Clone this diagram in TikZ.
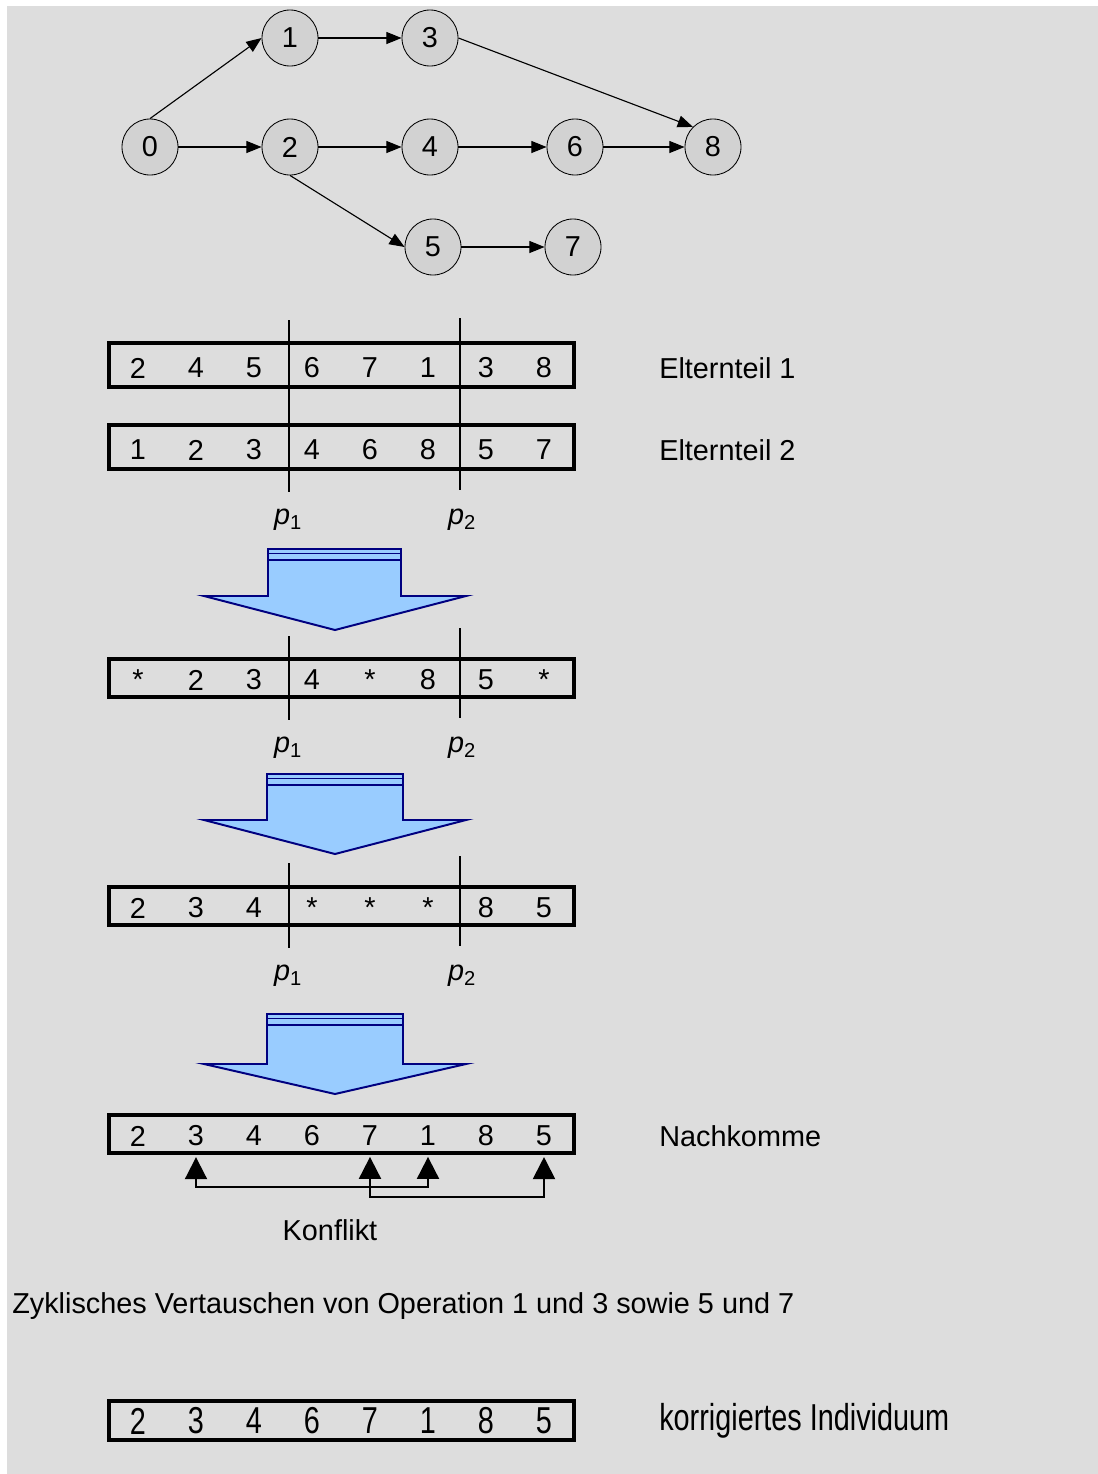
\documentclass[tikz,border=0pt]{standalone}
\usepackage{fontspec}
\setmainfont{Liberation Sans}
\usetikzlibrary{arrows.meta}
\usetikzlibrary{calc}
\usetikzlibrary{positioning}
\definecolor{bggray}{HTML}{DDDDDD}
\definecolor{vertexgray}{HTML}{D2D2D2}
\definecolor{blockfill}{HTML}{99CCFF}
\definecolor{blockline}{HTML}{000080}
\tikzset{basic vertex/.style={draw,circle}}
\tikzset{vertex/.style={basic vertex,minimum size=1.4cm,inner sep=0pt,
                        fill=vertexgray,line width=.6pt}}
\tikzset{edge/.style={draw,line width=.8pt,
                      -{Triangle[length=3.8mm,width=3mm]}}}
\newcommand{\CUTP}[1]{\textit{p}\textsubscript{#1}}

\begin{document}
\begin{tikzpicture}
      [
      x=0.025cm,y=-0.025cm,
      every node/.style={font=\fontsize{20.5}{24}\selectfont},
      cell/.style={inner sep=.3333em},
      row box/.style={draw,line width=2.4pt},
      cut/.style={draw,line width=1.4pt},
      side text/.style={anchor=west,inner sep=0pt},
      block arrow/.style={fill=blockfill,draw=blockline,line width=1.4pt,line join=miter},
      conflict/.style={draw,line width=1.4pt,shorten <=.15cm,shorten >=.15cm,
      {Triangle[length=5.5mm,width=5.5mm]}-{Triangle[length=5.5mm,width=5.5mm]}},
      ]

      \useasboundingbox (0,0) rectangle (1098,1474);
      \fill [bggray] (7,6) rectangle (1098,1474);

      % vertices
      \foreach \i/\x/\y in
      {
      0/150/147, 1/290/38, 2/290/147, 3/430/38, 4/430/147,
      5/433/247, 6/575/147, 7/573/247, 8/713/147
      }
      {
      \node [vertex] (V\i) at (\x,\y) {\i};
      }

      % edges
      \path [edge] (V0.north) -- (V1.west);
      \path [edge] (V0) -- (V2);
      \path [edge] (V1) -- (V3);
      \path [edge] (V3.east) -- (V8.north west);
      \path [edge] (V2) -- (V4);
      \path [edge] (V4) -- (V6);
      \path [edge] (V6) -- (V8);
      \path [edge] (V2.south) -- (V5.west);
      \path [edge] (V5) -- (V7);

      % chromosomes
      \foreach \r/\y/\t/\b/\s/\vals in
      {
      E1/368/343/387/1/{2,4,5,6,7,1,3,8},
      E2/450/425/469/1/{1,2,3,4,6,8,5,7},
      S1/680/659/697/1/{*,2,3,4,*,8,5,*},
      S2/908/887/925/1/{2,3,4,*,*,*,8,5},
      N/1136/1115/1153/1/{2,3,4,6,7,1,8,5},
      K/1421/1401/1440/1.3/{2,3,4,6,7,1,8,5}}
      {
      \draw [row box] (109,\t) rectangle (574,\b);
      \foreach \v [count=\k, evaluate=\k as \x using 80+\k*58] in \vals
      {
      \node [cell] (\r\k) at (\x,\y) {\scalebox{1}[\s]{\v}};
      }
      }

      \node [side text] (L1) at (659,368) {Elternteil 1};
      \node [side text] (L2) at (659,450) {Elternteil 2};
      \node [side text] (LN) at (659,1136) {Nachkomme};
      \node [side text] (LK) at (659,1421) {\scalebox{1}[1.3]{korrigiertes Individuum}};

      % crossover points
      \foreach \i/\ta/\ba/\tb/\bb/\l in
      {
      1/320/492/318/490/520,
      2/636/720/628/718/748,
      3/863/948/856/946/976
      }
      {
      \coordinate (A\i) at (289,\ta);
      \coordinate (B\i) at (289,\ba);
      \coordinate (C\i) at (460,\tb);
      \coordinate (D\i) at (460,\bb);
      \path [cut] (A\i) -- (B\i);
      \path [cut] (C\i) -- (D\i);
      \node (P\i) at (288,\l) {\CUTP{1}};
      \node (Q\i) at (462,\l) {\CUTP{2}};
      }

      % block arrows
      \foreach \t/\s/\e/\a/\b in {549/596/630/268/401, 774/820/854/267/403, 1014/1064/1094/267/403}
      {
      \filldraw [block arrow] (\a,\t) -- (\b,\t) -- (\b,\s) -- (466,\s) -- (335,\e)
      -- (204,\s) -- (\a,\s) -- cycle;
      \draw [blockline,line width=.7pt] (\a,\t+4) -- (\b,\t+4);
      \draw [blockline,line width=1.6pt] (\a,\t+11) -- (\b,\t+11);
      }

      % conflicts
      \path [conflict] (N2.south) -- ++(0,36) -| (N6.south);
      \path [conflict] (N5.south) -- ++(0,46) -| (N8.south);
      \node (KF) at (330,1230) {Konflikt};

      \node [side text] (ZV) at (12,1306) {Zyklisches Vertauschen von Operation 1 und 3 sowie 5 und 7};

    \end{tikzpicture}
\end{document}
